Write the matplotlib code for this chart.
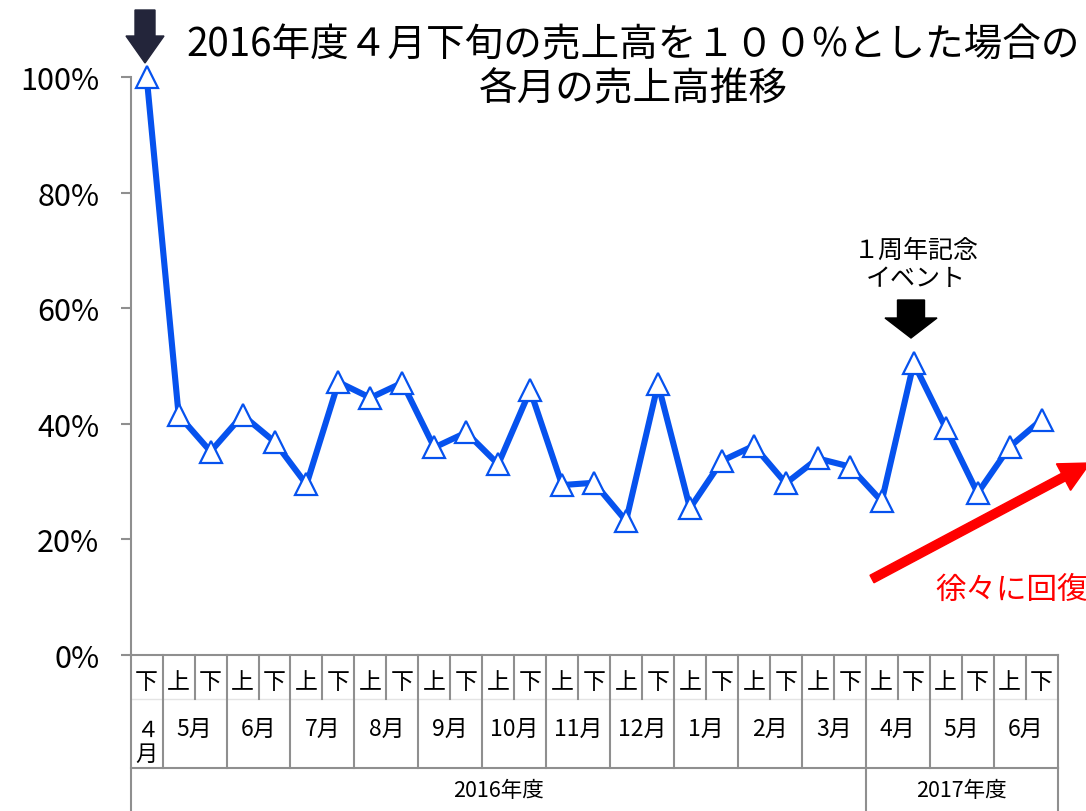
"""sales trend chart: each half-month's sales relative to late April 2016 (=100%).

line with open triangle markers over a three-row category table
(上/下 half, month, fiscal year), plus annotation arrows.
output: out.png (1086x812)
"""
import matplotlib
matplotlib.use("Agg")
import matplotlib.pyplot as plt
from matplotlib.patches import FancyArrow

plt.rcParams["font.family"] = ["Noto Sans CJK JP", "DejaVu Sans"]

# data
HALVES = ["下"] + ["上", "下"] * 14
MONTH_LABELS = ["４\n月", "5月", "6月", "7月", "8月", "9月", "10月", "11月",
                "12月", "1月", "2月", "3月", "4月", "5月", "6月"]
MONTH_SPANS = [1] + [2] * 14
YEAR_LABELS = ["2016年度", "2017年度"]
YEAR_SPANS = [23, 6]
SALES_PCT = [100.0, 41.5, 35.2, 41.5, 36.9, 29.5, 47.2, 44.5, 47.1, 35.9,
             38.5, 33.0, 45.8, 29.4, 29.8, 23.2, 46.9, 25.4, 33.6, 36.2,
             29.7, 34.0, 32.6, 26.6, 50.5, 39.3, 28.0, 36.0, 40.7]
Y_TICKS = [0, 20, 40, 60, 80, 100]

TITLE = "2016年度４月下旬の売上高を１００%とした場合の\n各月の売上高推移"
EVENT_NOTE = "１周年記念\nイベント"
RECOVERY_NOTE = "徐々に回復"

W, H = 1086, 812
BLUE = "#0652ee"
GRID_GREY = "#8f8f8f"

fig = plt.figure(figsize=(W / 100, H / 100), dpi=100)

# plot area in pixels: x 130.7..1057.5, y 78..656
left, right = 130.7 / W, 1057.5 / W
ax = fig.add_axes([left, (H - 656) / H, right - left, 578 / H])
xs = list(range(len(SALES_PCT)))
ax.plot(xs, SALES_PCT, color=BLUE, linewidth=4.4, marker="^", markersize=16,
        markerfacecolor="white", markeredgecolor=BLUE, markeredgewidth=1.6,
        clip_on=False, zorder=3)
ax.set_xlim(-0.5, len(SALES_PCT) - 0.5)
ax.set_ylim(0, 100)
ax.set_yticks(Y_TICKS)
ax.set_yticklabels([f"{t}%" for t in Y_TICKS], fontsize=22)
ax.set_xticks([])
for side in ("top", "right"):
    ax.spines[side].set_visible(False)
for side in ("left", "bottom"):
    ax.spines[side].set_color(GRID_GREY)
    ax.spines[side].set_linewidth(1.5)
ax.tick_params(axis="y", direction="out", length=7.5, width=1.5,
               color=GRID_GREY, pad=15)

# category table under the plot
tab = fig.add_axes([left, 0, right - left, (H - 656) / H])
tab.set_xlim(-0.5, len(SALES_PCT) - 0.5)
tab.set_ylim(156, 0)
tab.axis("off")
lk = dict(color=GRID_GREY, linewidth=1.5, clip_on=False)

# row 1: 上/下
for i, h in enumerate(HALVES):
    tab.text(i, 27, h, ha="center", va="center", fontsize=16.5)
# faint split between row 1 and row 2
tab.plot([-0.5, len(SALES_PCT) - 0.5], [44, 44], color="#e4e4e4",
         linewidth=1.0, clip_on=False)

# row 2: months, with half-month separators
pos = 0
for lab, span in zip(MONTH_LABELS, MONTH_SPANS):
    cx = pos + (span - 1) / 2
    if span == 1:
        tab.text(cx, 86, lab, ha="center", va="center", fontsize=16,
                 linespacing=1.05)
    else:
        tab.text(cx, 73, lab, ha="center", va="center", fontsize=16.5)
        for k in range(1, span):
            tab.plot([pos + k - 0.5] * 2, [0, 44], **lk)
    pos += span
    tab.plot([pos - 0.5] * 2, [0, 113], **lk)
tab.plot([-0.5, len(SALES_PCT) - 0.5], [113, 113], **lk)

# row 3: fiscal years
pos = 0
for lab, span in zip(YEAR_LABELS, YEAR_SPANS):
    tab.text(pos + (span - 1) / 2, 135, lab, ha="center", va="center",
             fontsize=15.5)
    pos += span
    tab.plot([pos - 0.5] * 2, [113, 156], **lk)
tab.plot([-0.5, -0.5], [0, 156], **lk)


def px(x, y):
    """pixel position (from top-left) -> inches for dpi_scale_trans."""
    return x / 100, (H - y) / 100


# title
fig.text(633 / W, 1 - 67 / H, TITLE, ha="center", va="center",
         fontsize=27.8, linespacing=1.12)

# arrow over first point
x0, y0 = px(145, 11)
fig.patches.append(FancyArrow(x0, y0, 0, -0.53, width=0.20, head_width=0.38,
                              head_length=0.27, length_includes_head=True,
                              color="#23253a", transform=fig.dpi_scale_trans))

# event arrow and note
x0, y0 = px(911, 301)
fig.patches.append(FancyArrow(x0, y0, 0, -0.38, width=0.27, head_width=0.52,
                              head_length=0.20, length_includes_head=True,
                              color="black", transform=fig.dpi_scale_trans))
fig.text(916 / W, 1 - 265 / H, EVENT_NOTE, ha="center", va="center",
         fontsize=18, linespacing=1.1)

# recovery arrow and note
x0, y0 = px(872, 580)
fig.patches.append(FancyArrow(x0, y0, 2.18, 1.16, width=0.085,
                              head_width=0.30, head_length=0.30,
                              length_includes_head=True, color="#ff0000",
                              transform=fig.dpi_scale_trans))
fig.text(1088 / W, 1 - 590 / H, RECOVERY_NOTE, ha="right", va="center",
         fontsize=22, color="#ff0000")

fig.savefig("out.png", dpi=100)
